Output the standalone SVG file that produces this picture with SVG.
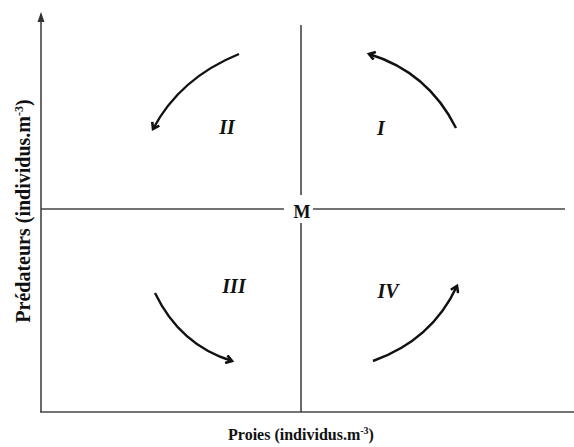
<svg xmlns="http://www.w3.org/2000/svg" width="574" height="447" viewBox="0 0 574 447">
<style>
.ax{stroke:#444;stroke-width:1.6;fill:none}
.arc{stroke:#111;stroke-width:2.4;fill:none;marker-end:url(#ah)}
.q{font-family:"Liberation Serif",serif;font-weight:bold;font-style:italic;font-size:20px;fill:#111;text-anchor:middle}
.lab{font-family:"Liberation Serif",serif;font-weight:bold;fill:#111;text-anchor:middle}
</style>
<defs>
<marker id="ah" markerWidth="10" markerHeight="10" refX="7" refY="5" orient="auto" markerUnits="userSpaceOnUse">
<path d="M1,1 L7,5 L1,9" fill="none" stroke="#111" stroke-width="2.6"/>
</marker>
</defs>
<g id="axes">
<path class="ax" d="M41,412 V14"/>
<path d="M37.5,22 L41,12 L44.5,22 Z" fill="#333"/>
<path class="ax" d="M40,412 H574"/>
<path class="ax" d="M301,25 V412"/>
<path class="ax" d="M41,209 H565"/>
</g>
<g id="M">
<rect x="284" y="195" width="29" height="28" fill="#fff"/>
<text x="302" y="218" class="lab" style="font-size:18px">M</text>
</g>
<g id="connectors">
<path class="arc" d="M239,54 Q180,78 153,129"/>
<path class="arc" d="M456,128 Q428,72 369,54"/>
<path class="arc" d="M155,293 Q180,345 232,361"/>
<path class="arc" d="M373,361 Q432,340 457,286"/>
</g>
<g id="q1"><text x="381" y="135" class="q">I</text></g>
<g id="q2"><text x="227" y="134" class="q">II</text></g>
<g id="q3"><text x="234" y="293" class="q">III</text></g>
<g id="q4"><text x="388" y="298" class="q">IV</text></g>
<g id="xlabel">
<text x="301" y="440" class="lab" style="font-size:16px">Proies (individus.m<tspan style="font-size:10px" dy="-6">-3</tspan><tspan dy="6">)</tspan></text>
</g>
<g id="ylabel">
<text transform="translate(30,211) rotate(-90)" class="lab" style="font-size:20px">Prédateurs (individus.m<tspan style="font-size:12px" dy="-7">-3</tspan><tspan dy="7">)</tspan></text>
</g>
</svg>
